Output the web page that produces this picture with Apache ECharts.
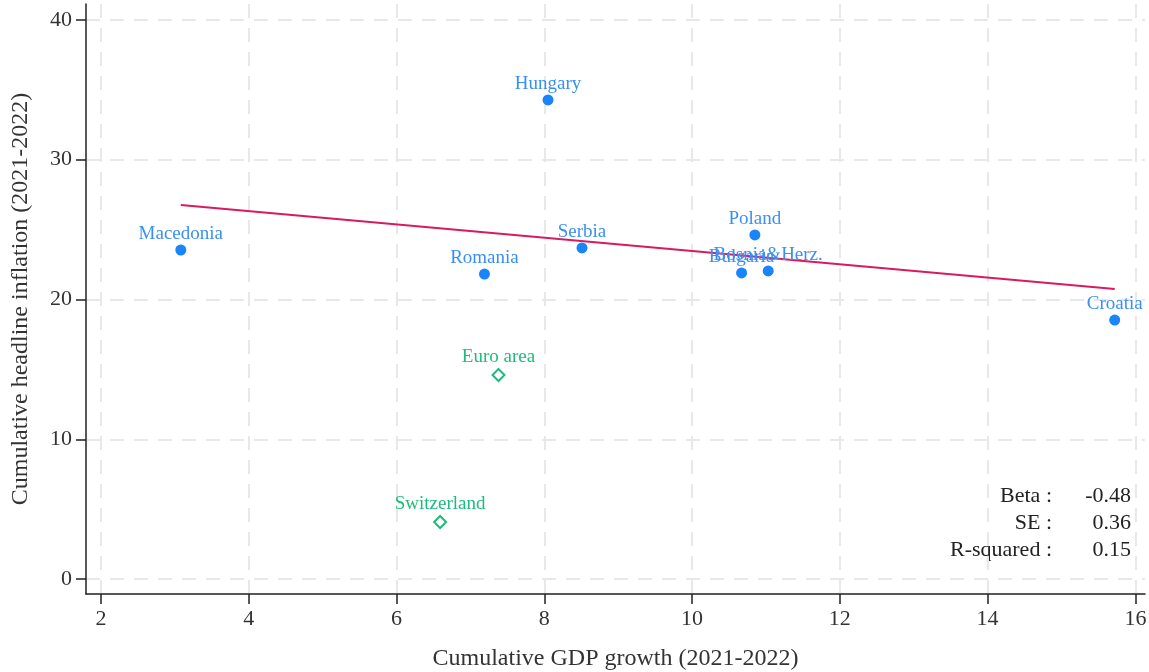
<!DOCTYPE html>
<html>
<head>
<meta charset="utf-8">
<script src="https://cdn.jsdelivr.net/npm/echarts@6/dist/echarts.min.js"></script>
<style>
  html, body { margin: 0; padding: 0; background: #fff; }
  #chart { width: 1149px; height: 672px; }
</style>
</head>
<body>
<div id="chart"></div>
<script>
// countries (filled dots)
var countries = ['Hungary', 'Macedonia', 'Romania', 'Serbia', 'Poland', 'Bulgaria', 'Bosnia&Herz.', 'Croatia'];
var gdpGrowth = [8.05, 3.08, 7.19, 8.51, 10.85, 10.67, 11.03, 15.72];
var inflation = [34.28, 23.54, 21.82, 23.69, 24.62, 21.9, 22.04, 18.53];

// benchmarks (hollow diamonds)
var benchNames = ['Euro area', 'Switzerland'];
var benchGdp = [7.38, 6.59];
var benchInfl = [14.6, 4.08];

// fitted line endpoints
var fitX = [3.08, 15.72];
var fitY = [26.76, 20.75];

var statLabels = ['Beta :', 'SE :', 'R-squared :'];
var statValues = ['-0.48', '0.36', '0.15'];

var serif = '"Liberation Serif", "DejaVu Serif", serif';
var blue = '#1a84fb';
var green = '#1dbb7c';

var countryData = countries.map(function (n, i) { return [gdpGrowth[i], inflation[i], n]; });
var benchData = benchNames.map(function (n, i) { return [benchGdp[i], benchInfl[i], n]; });
var fitData = fitX.map(function (x, i) { return [x, fitY[i]]; });

var myChart = echarts.init(document.getElementById('chart'));

var statGraphics = [];
statLabels.forEach(function (t, i) {
    statGraphics.push({
        type: 'text', right: 97, top: 485 + i * 27,
        style: { text: t, font: '22px ' + serif, fill: '#222', textAlign: 'right' }
    });
    statGraphics.push({
        type: 'text', right: 18, top: 485 + i * 27,
        style: { text: statValues[i], font: '22px ' + serif, fill: '#222', textAlign: 'right' }
    });
});

var gridLine = { show: true, lineStyle: { color: '#e8e8e8', width: 2, type: [14, 10] } };

var option = {
    backgroundColor: '#fff',
    animation: false,
    grid: { left: 86, right: 4, top: 4, bottom: 78, outerBoundsMode: 'none', containLabel: false },
    xAxis: {
        type: 'value', min: 1.797, max: 16.13, interval: 2,
        name: 'Cumulative GDP growth (2021-2022)',
        nameLocation: 'middle', nameGap: 53,
        nameTextStyle: { fontFamily: serif, fontSize: 24, color: '#333' },
        axisLine: { show: true, onZero: false, lineStyle: { color: '#222', width: 1.5 } },
        axisTick: { show: true, length: 10, lineStyle: { color: '#222', width: 1.5 }, customValues: [2, 4, 6, 8, 10, 12, 14, 16] },
        axisLabel: { fontFamily: serif, fontSize: 22, color: '#333', margin: 14, customValues: [2, 4, 6, 8, 10, 12, 14, 16] },
        splitLine: gridLine
    },
    yAxis: {
        type: 'value', min: -1.07, max: 41.14,
        name: 'Cumulative headline inflation (2021-2022)',
        nameLocation: 'middle', nameGap: 53,
        nameTextStyle: { fontFamily: serif, fontSize: 24, color: '#333' },
        axisLine: { show: true, onZero: false, lineStyle: { color: '#222', width: 1.5 } },
        axisTick: { show: true, length: 10, lineStyle: { color: '#222', width: 1.5 }, customValues: [0, 10, 20, 30, 40] },
        axisLabel: { fontFamily: serif, fontSize: 22, color: '#333', margin: 14, customValues: [0, 10, 20, 30, 40] },
        splitLine: gridLine
    },
    series: [
        {
            type: 'line', data: fitData, symbol: 'none', z: 3,
            lineStyle: { color: '#d81b60', width: 2 }
        },
        {
            type: 'scatter', data: countryData, symbol: 'circle', symbolSize: 11, z: 4,
            itemStyle: { color: blue, opacity: 1 },
            label: {
                show: true, position: 'top', distance: 1,
                formatter: function (p) { return p.data[2]; },
                fontFamily: serif, fontSize: 19, color: '#3a8ff5'
            }
        },
        {
            type: 'scatter', data: benchData, symbol: 'diamond', symbolSize: 12, z: 4,
            itemStyle: { color: '#fff', borderColor: green, borderWidth: 2, opacity: 1 },
            label: {
                show: true, position: 'top', distance: 1,
                formatter: function (p) { return p.data[2]; },
                fontFamily: serif, fontSize: 19, color: green
            }
        }
    ],
    graphic: statGraphics
};

myChart.setOption(option);
</script>
</body>
</html>
